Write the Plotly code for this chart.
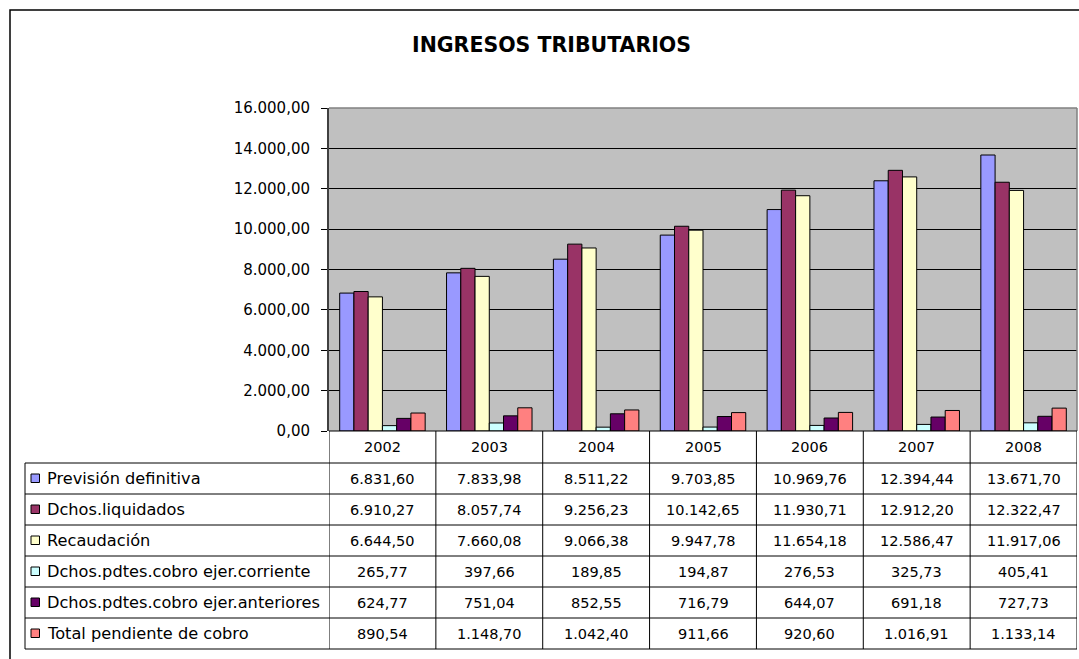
import plotly.graph_objects as go

years = ["2002", "2003", "2004", "2005", "2006", "2007", "2008"]
series_names = [
    "Previsión definitiva",
    "Dchos.liquidados",
    "Recaudación",
    "Dchos.pdtes.cobro ejer.corriente",
    "Dchos.pdtes.cobro ejer.anteriores",
    "Total pendiente de cobro",
]
prevision = [6831.60, 7833.98, 8511.22, 9703.85, 10969.76, 12394.44, 13671.70]
liquidados = [6910.27, 8057.74, 9256.23, 10142.65, 11930.71, 12912.20, 12322.47]
recaudacion = [6644.50, 7660.08, 9066.38, 9947.78, 11654.18, 12586.47, 11917.06]
pdtes_corriente = [265.77, 397.66, 189.85, 194.87, 276.53, 325.73, 405.41]
pdtes_anteriores = [624.77, 751.04, 852.55, 716.79, 644.07, 691.18, 727.73]
total_pendiente = [890.54, 1148.70, 1042.40, 911.66, 920.60, 1016.91, 1133.14]
series_values = [prevision, liquidados, recaudacion, pdtes_corriente, pdtes_anteriores, total_pendiente]
colors = ["#9999FF", "#993366", "#FFFFCC", "#CCFFFF", "#660066", "#FF8080"]
y_ticks = [0, 2000, 4000, 6000, 8000, 10000, 12000, 14000, 16000]

W, H = 1079, 659
FONT = "DejaVu Sans, Arial, Liberation Sans"


def px(x):
    return x / W


def py(y):
    return 1 - y / H


def fmt(v):
    s = f"{v:,.2f}"
    return s.replace(",", "X").replace(".", ",").replace("X", ".")


PLOT_L, PLOT_R, PLOT_T, PLOT_B = 329, 1077, 108, 431
HEADER_B = 463
ROW_H = 31
TABLE_L = 25

xs = list(range(len(years)))
fig = go.Figure()
for name, vals, col in zip(series_names, series_values, colors):
    fig.add_trace(go.Bar(
        x=xs, y=vals, name=name,
        marker=dict(color=col, line=dict(color="#000000", width=1)),
        showlegend=False,
    ))

shapes = []
annotations = []

# outer chart border
shapes.append(dict(type="rect", xref="paper", yref="paper",
                   x0=px(10), x1=px(1090), y0=py(10), y1=py(670),
                   line=dict(color="#000000", width=1.5), fillcolor="rgba(0,0,0,0)", layer="below"))
# plot area top/right border
shapes.append(dict(type="line", xref="paper", yref="paper",
                   x0=px(PLOT_L), x1=px(PLOT_R), y0=py(PLOT_T), y1=py(PLOT_T),
                   line=dict(color="#808080", width=1.5)))
shapes.append(dict(type="line", xref="paper", yref="paper",
                   x0=px(PLOT_R), x1=px(PLOT_R), y0=py(PLOT_T), y1=py(PLOT_B),
                   line=dict(color="#808080", width=1.5)))

n_rows = len(series_names)
table_bottom = HEADER_B + ROW_H * n_rows
line_style = dict(color="#000000", width=1)

# vertical column lines through the table (category boundaries on x axis)
for i in range(len(years) + 1):
    shapes.append(dict(type="line", xref="x", yref="paper",
                       x0=i - 0.5, x1=i - 0.5, y0=py(PLOT_B), y1=py(table_bottom),
                       line=line_style))
# left table border
shapes.append(dict(type="line", xref="paper", yref="paper",
                   x0=px(TABLE_L), x1=px(TABLE_L), y0=py(HEADER_B), y1=py(table_bottom),
                   line=line_style))
# horizontal lines
shapes.append(dict(type="line", xref="x", yref="paper",
                   x0=-0.5, x1=len(years) - 0.5, y0=py(PLOT_B), y1=py(PLOT_B),
                   line=line_style))
for r in range(n_rows + 1):
    yy = HEADER_B + ROW_H * r
    shapes.append(dict(type="line", xref="paper", yref="paper",
                       x0=px(TABLE_L), x1=px(PLOT_R), y0=py(yy), y1=py(yy),
                       line=line_style))

# year header
for i, yr in enumerate(years):
    annotations.append(dict(x=i, y=py((PLOT_B + HEADER_B) / 2), xref="x", yref="paper",
                            text=yr, showarrow=False, xanchor="center", yanchor="middle",
                            font=dict(family=FONT, size=14.5, color="#000000")))

# rows
for r, (name, vals, col) in enumerate(zip(series_names, series_values, colors)):
    yc = HEADER_B + ROW_H * r + ROW_H / 2
    shapes.append(dict(type="rect", xref="paper", yref="paper",
                       x0=px(31), x1=px(39.5), y0=py(yc - 4.5), y1=py(yc + 4),
                       fillcolor=col, line=dict(color="#000000", width=1)))
    annotations.append(dict(x=px(45), y=py(yc), xref="paper", yref="paper",
                            text=name, showarrow=False, xanchor="left", yanchor="middle",
                            font=dict(family=FONT, size=16.2, color="#000000")))
    for i, v in enumerate(vals):
        annotations.append(dict(x=i, y=py(yc), xref="x", yref="paper",
                                text=fmt(v), showarrow=False, xanchor="center", yanchor="middle",
                                font=dict(family=FONT, size=14.5, color="#000000")))

# title
annotations.append(dict(x=px(551), y=py(45), xref="paper", yref="paper",
                        text="<b>INGRESOS TRIBUTARIOS</b>", showarrow=False,
                        xanchor="center", yanchor="middle",
                        font=dict(family=FONT, size=20.5, color="#000000")))

fig.update_layout(
    template="none",
    width=W, height=H,
    margin=dict(l=0, r=0, t=0, b=0),
    paper_bgcolor="#FFFFFF",
    plot_bgcolor="#C0C0C0",
    barmode="group",
    bargap=0.2,
    bargroupgap=0,
    separators=",.",
    shapes=shapes,
    annotations=annotations,
    xaxis=dict(domain=[px(PLOT_L), px(PLOT_R)], range=[-0.5, len(years) - 0.5],
               showticklabels=False, showgrid=False, zeroline=False,
               showline=False, ticks="", automargin=False, fixedrange=True),
    yaxis=dict(domain=[py(PLOT_B), py(PLOT_T)], range=[0, 16000],
               tickvals=y_ticks, tickformat=",.2f",
               showgrid=True, gridcolor="#000000", gridwidth=1,
               zeroline=False, showline=True, linecolor="#404040", linewidth=2,
               ticks="outside", ticklen=6, tickcolor="#000000", tickwidth=1,
               ticklabelstandoff=8, automargin=False,
               tickfont=dict(family=FONT, size=15, color="#000000"), fixedrange=True),
)

fig.write_html("out.html", config={"displayModeBar": False},
               post_script="document.body.style.margin='0';document.body.style.overflow='hidden';")
